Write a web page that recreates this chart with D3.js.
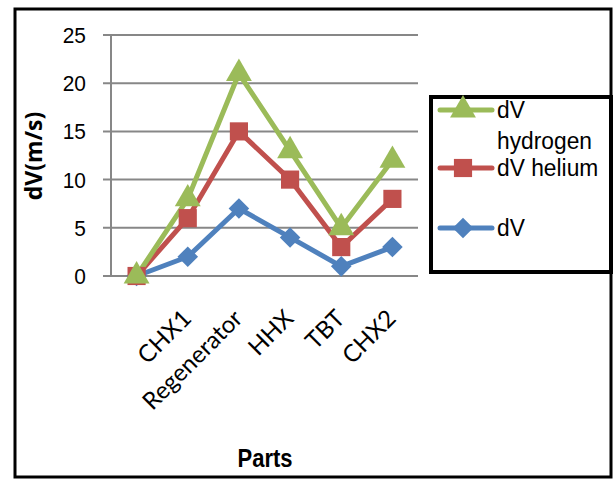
<!DOCTYPE html>
<html>
<head>
<meta charset="utf-8">
<script src="https://cdn.jsdelivr.net/npm/d3@7"></script>
<style>
  html, body { margin: 0; padding: 0; background: #fff; }
  svg { display: block; }
  .sans { font-family: "Liberation Sans", Arial, sans-serif; }
  .cat { font-family: Lato, "Open Sans", sans-serif; }
</style>
</head>
<body>
<svg id="chart" width="615" height="480"></svg>
<script>
// Velocity difference per component
const parts = ["", "CHX1", "Regenerator", "HHX", "TBT", "CHX2"];
const dvHydrogen = [0, 8, 21, 13, 5, 12];
const dvHelium = [0, 6, 15, 10, 3, 8];
const dvPlain = [0, 2, 7, 4, 1, 3];
const yTicks = [0, 5, 10, 15, 20, 25];

const series = [
  { name: ["dV", "hydrogen"], values: dvHydrogen, color: "#9BBB59", shape: d3.symbolTriangle, size: 290 },
  { name: ["dV helium"], values: dvHelium, color: "#C0504D", shape: d3.symbolSquare, size: 330 },
  { name: ["dV"], values: dvPlain, color: "#4F81BD", shape: d3.symbolDiamond2, size: 270 }
];

const svg = d3.select("#chart");

// outer frame
svg.append("rect").attr("x", 15).attr("y", 9).attr("width", 596).attr("height", 468)
  .attr("fill", "#fff").attr("stroke", "#000").attr("stroke-width", 3);

const plot = { left: 111, right: 418, top: 35, bottom: 276 };

const x = d3.scaleBand().domain(d3.range(parts.length)).range([plot.left, plot.right]);
const y = d3.scaleLinear().domain([0, 25]).range([plot.bottom, plot.top]);
const cx = i => x(i) + x.bandwidth() / 2;

// gridlines
svg.append("g").selectAll("line").data(yTicks).join("line")
  .attr("x1", plot.left - 8).attr("x2", plot.right)
  .attr("y1", d => y(d)).attr("y2", d => y(d))
  .attr("stroke", "#878787").attr("stroke-width", 2);

// y axis line
svg.append("line").attr("x1", plot.left).attr("x2", plot.left)
  .attr("y1", plot.top).attr("y2", plot.bottom)
  .attr("stroke", "#878787").attr("stroke-width", 2);

// y tick labels
svg.append("g").selectAll("text").data(yTicks).join("text")
  .attr("class", "sans")
  .attr("transform", d => `translate(86,${y(d)}) scale(0.95,1)`)
  .attr("dy", "0.36em")
  .attr("text-anchor", "end").attr("font-size", 22).attr("fill", "#000")
  .text(d => d);

// category labels
svg.append("g").selectAll("text").data(parts).join("text")
  .attr("class", "cat")
  .attr("text-anchor", "end").attr("font-size", 24).attr("fill", "#000")
  .attr("transform", (d, i) => `translate(${cx(i) + 5},${plot.bottom + 44}) rotate(-45)`)
  .text(d => d);

// axis titles
svg.append("text")
  .attr("transform", "translate(42,156) rotate(-90)")
  .attr("font-family", "'Open Sans', sans-serif")
  .attr("text-anchor", "middle").attr("font-size", 23).attr("font-weight", "bold")
  .text("dV(m/s)");
svg.append("text").attr("class", "sans")
  .attr("transform", "translate(265,467) scale(0.88,1)")
  .attr("text-anchor", "middle").attr("font-size", 25).attr("font-weight", "bold")
  .text("Parts");

// lines and markers
const line = d3.line().x((d, i) => cx(i)).y(d => y(d));
const order = [2, 1, 0];
order.forEach(k => {
  const s = series[k];
  svg.append("path").datum(s.values).attr("d", line)
    .attr("fill", "none").attr("stroke", s.color).attr("stroke-width", 5)
    .attr("stroke-linejoin", "round").attr("stroke-linecap", "round");
});
order.forEach(k => {
  const s = series[k];
  svg.append("g").selectAll("path").data(s.values).join("path")
    .attr("transform", (d, i) => `translate(${cx(i)},${y(d)})`)
    .attr("d", d3.symbol().type(s.shape).size(s.size)())
    .attr("fill", s.color);
});

// legend
const lg = svg.append("g");
lg.append("rect").attr("x", 431).attr("y", 97).attr("width", 180).attr("height", 175)
  .attr("fill", "#fff").attr("stroke", "#000").attr("stroke-width", 4);
const legendY = [110, 168, 228];
series.forEach((s, k) => {
  const ly = legendY[k];
  lg.append("line").attr("x1", 440).attr("x2", 492).attr("y1", ly).attr("y2", ly)
    .attr("stroke", s.color).attr("stroke-width", 5).attr("stroke-linecap", "round");
  lg.append("path").attr("transform", `translate(463,${ly})`)
    .attr("d", d3.symbol().type(s.shape).size(s.size)()).attr("fill", s.color);
  const t = lg.append("text").attr("class", "sans")
    .attr("transform", `translate(497,${ly + 8}) scale(0.95,1)`)
    .attr("font-size", 24).attr("fill", "#000");
  s.name.forEach((nm, j) => {
    t.append("tspan").attr("x", 0).attr("dy", j === 0 ? 0 : 31).text(nm);
  });
});
</script>
</body>
</html>
